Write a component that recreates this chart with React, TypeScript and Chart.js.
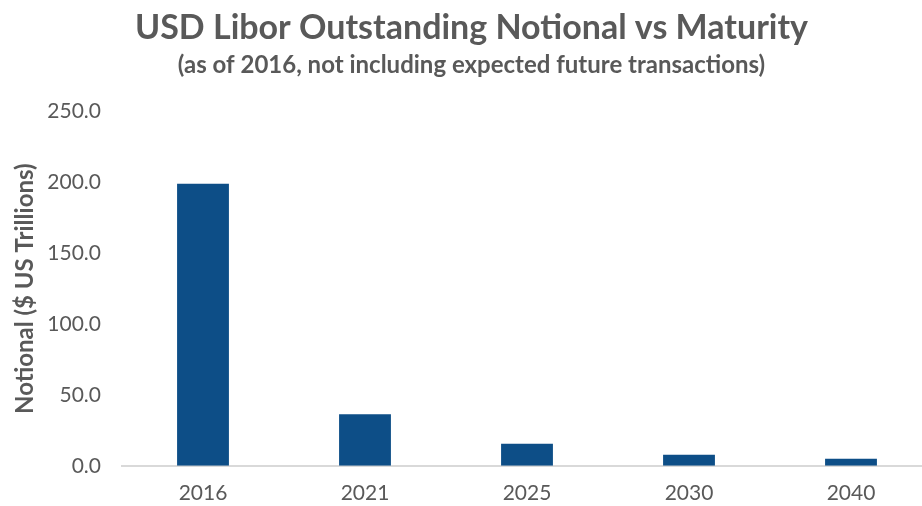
import React, { useEffect, useRef } from "react";
import { Chart, registerables } from "chart.js";

Chart.register(...registerables);

const categories = ["2016", "2021", "2025", "2030", "2040"];
const notional = [199, 36.3, 15.6, 7.8, 5.0];
const yTicks = [0, 50, 100, 150, 200, 250];

const TITLE = "USD Libor Outstanding Notional vs Maturity";
const SUBTITLE = "(as of 2016, not including expected future transactions)";
const Y_TITLE = "Notional ($ US Trillions)";

const FONT = "Lato, 'Open Sans', sans-serif";
const GREY = "#595959";

export default function App() {
  const ref = useRef<HTMLCanvasElement | null>(null);

  useEffect(() => {
    if (!ref.current) return;
    const chart = new Chart(ref.current, {
      type: "bar",
      data: {
        labels: categories,
        datasets: [
          {
            data: notional,
            backgroundColor: "#0D4E87",
            barPercentage: 0.32,
            categoryPercentage: 1,
          },
        ],
      },
      options: {
        animation: false,
        responsive: false,
        maintainAspectRatio: false,
        layout: { padding: { left: 11, right: 0, top: 0, bottom: 0 } },
        plugins: {
          legend: { display: false },
          tooltip: { enabled: false },
          title: {
            display: true,
            text: TITLE,
            color: GREY,
            font: { family: FONT, size: 34, weight: "bold" },
            padding: { top: 8, bottom: 2 },
          },
          subtitle: {
            display: true,
            text: SUBTITLE,
            color: GREY,
            font: { family: FONT, size: 24, weight: "bold" },
            padding: { top: 0, bottom: 32 },
          },
        },
        scales: {
          x: {
            grid: { display: false, drawTicks: false, tickLength: 0 },
            border: { display: true, color: "#d9d9d9", width: 2 },
            ticks: {
              color: GREY,
              font: { family: FONT, size: 21 },
              padding: 15,
            },
          },
          y: {
            min: 0,
            max: 250,
            afterBuildTicks: (axis: any) => {
              axis.ticks = yTicks.map((v) => ({ value: v }));
            },
            afterFit: (axis: any) => {
              axis.width = 111;
            },
            grid: { display: false, drawTicks: false, tickLength: 0 },
            border: { display: false },
            ticks: {
              color: GREY,
              font: { family: FONT, size: 21 },
              padding: 21,
              callback: (v: any) => Number(v).toFixed(1),
            },
            title: {
              display: true,
              text: Y_TITLE,
              color: GREY,
              font: { family: FONT, size: 24, weight: "bold" },
              padding: { top: 0, bottom: 2 },
            },
          },
        },
      },
    });
    return () => chart.destroy();
  }, []);

  return (
    <div
      style={{
        position: "absolute",
        left: 0,
        top: 0,
        width: 922,
        height: 506,
        overflow: "hidden",
        background: "#fff",
      }}
    >
      <canvas ref={ref} width={932} height={521} style={{ display: "block" }} />
    </div>
  );
}
